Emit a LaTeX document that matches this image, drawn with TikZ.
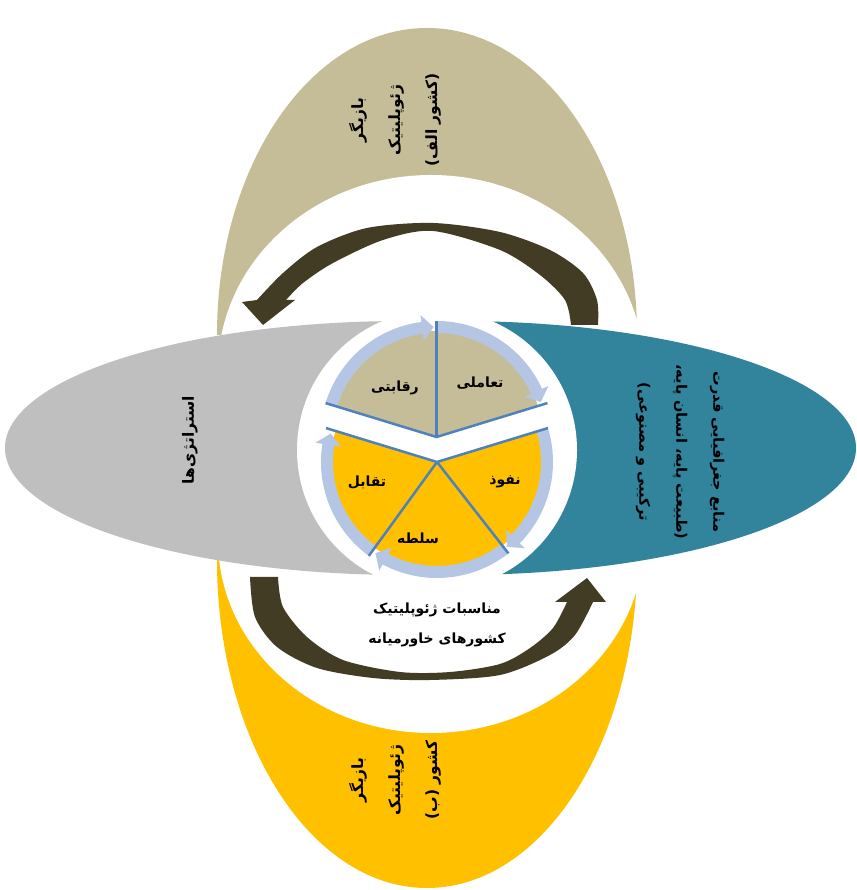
\documentclass[tikz,border=0pt]{standalone}
\usepackage{fontspec}
\newfontfamily\fa[Script=Arabic]{DejaVu Sans}
\TeXXeTstate=1
\definecolor{tanc}{HTML}{C4BD97}
\definecolor{yel}{HTML}{FFC000}
\definecolor{grayc}{HTML}{BFBFBF}
\definecolor{tealc}{HTML}{31849B}
\definecolor{darkar}{HTML}{423C25}
\definecolor{ringc}{HTML}{B4C6E3}
\definecolor{linec}{HTML}{4F81BD}
\newcommand\ringarr[2]{%
  \fill[ringc] (#1:116) arc[start angle=#1, end angle=#2+6, radius=116]
    -- (#2+6:123) -- (#2:110) -- (#2+6:97) -- (#2+6:104)
    arc[start angle=#2+6, end angle=#1, radius=104] -- cycle;}
\begin{document}
\begin{tikzpicture}[x=1pt,y=1pt,
  lbl/.style={font=\fa\bfseries\fontsize{14}{16}\selectfont, inner sep=0pt},
  rottxt/.style={font=\fa\bfseries\fontsize{15.5}{37}\selectfont, align=center, inner sep=0pt},
  tealtxt/.style={font=\fa\bfseries\fontsize{14.5}{37}\selectfont, align=center, inner sep=0pt},
  midtxt/.style={font=\fa\bfseries\fontsize{14}{30}\selectfont, align=center, inner sep=0pt},
  divline/.style={linec, line width=2.5pt}]
\useasboundingbox (0,0) rectangle (856,890);
\fill[white] (0,0) rectangle (856,890);
% top tan crescent
\fill[tanc] (217,555) arc[start angle=180, end angle=0, x radius=210, y radius=307] -- cycle;
\fill[white] (431,520) ellipse[x radius=213, y radius=195];
% bottom yellow crescent
\fill[yel] (217,330) arc[start angle=180, end angle=360, x radius=210, y radius=328] -- cycle;
\fill[white] (431,350) ellipse[x radius=213, y radius=193];
% side ellipses
\begin{scope}
  \clip (0,0) rectangle (437,890);
  \fill[grayc] (405,442) ellipse[x radius=400, y radius=127];
\end{scope}
\begin{scope}
  \clip (437,0) rectangle (856,890);
  \fill[tealc] (456,442) ellipse[x radius=400, y radius=127];
\end{scope}
% white disc
\fill[white] (437,440) circle[radius=140];
% top curved arrow
\fill[darkar] plot[smooth] coordinates {(598,565) (597,590) (583,617) (550,640) (500,658) (433,667) (367,662) (317,643) (283,617) (257,590)}
  -- (242,588) -- (263,565) -- (295,590)
  -- plot[smooth] coordinates {(286,590) (303,607) (333,627) (383,650) (433,659) (500,640) (540,615) (565,590) (571,565)}
  -- cycle;
% bottom curved arrow
\fill[darkar] plot[smooth] coordinates {(250,313) (255,273) (277,243) (317,222) (373,212) (430,210) (500,215) (550,235) (575,255) (593,288)}
  -- (606,288) -- (587,312) -- (555,288)
  -- plot[smooth] coordinates {(567,288) (553,262) (530,242) (500,226) (450,218) (400,218) (343,230) (307,253) (283,283) (278,313)}
  -- cycle;
% pie: top group
\begin{scope}[shift={(436.5,453)}]
  \fill[tanc] (0,0) -- (17:106) arc[start angle=17, end angle=163, radius=106] -- cycle;
  \ringarr{163}{91.5}
  \ringarr{90}{18.5}
  \draw[divline] (17:116) -- (0,0) -- (163:116);
  \draw[divline] (0,0) -- (90:116);
\end{scope}
% pie: bottom group
\begin{scope}[shift={(437,428)}]
  \fill[yel] (0,0) -- (163:106) arc[start angle=163, end angle=377, radius=106] -- cycle;
  \ringarr{377}{309.5}
  \ringarr{308}{236}
  \ringarr{234}{165}
  \draw[divline] (17:116) -- (0,0) -- (163:116);
  \draw[divline] (0,0) -- (234:116);
  \draw[divline] (0,0) -- (308:116);
\end{scope}
% pie labels
\node[lbl] (taamoli) at (480,507) {\beginR تعاملی\endR};
\node[lbl] (reqabati) at (395,502) {\beginR رقابتی\endR};
\node[lbl] (nofuz) at (505,408) {\beginR نفوذ\endR};
\node[lbl] (solte) at (418,352) {\beginR سلطه\endR};
\node[lbl] (taqabol) at (367,408) {\beginR تقابل\endR};
% rotated texts
\node[rottxt, rotate=90] (actorA) at (395,770) {\beginR بازیگر\endR\\\beginR ژئوپلیتیک\endR\\\beginR (کشور الف)\endR};
\node[rottxt, rotate=90] (actorB) at (395,110) {\beginR بازیگر\endR\\\beginR ژئوپلیتیک\endR\\\beginR کشور (ب)\endR};
\node[rottxt, rotate=90] (strat) at (190,450) {\beginR استراتژی‌ها\endR};
\node[tealtxt, rotate=-90] (manabe) at (680,438) {\beginR منابع جغرافیایی قدرت\endR\\\beginR (طبیعت پایه، انسان پایه،\endR\\\beginR ترکیبی و مصنوعی)\endR};
\node[midtxt] (monasebat) at (437,265) {\beginR مناسبات ژئوپلیتیک\endR\\\beginR کشورهای خاورمیانه\endR};
\end{tikzpicture}
\end{document}
